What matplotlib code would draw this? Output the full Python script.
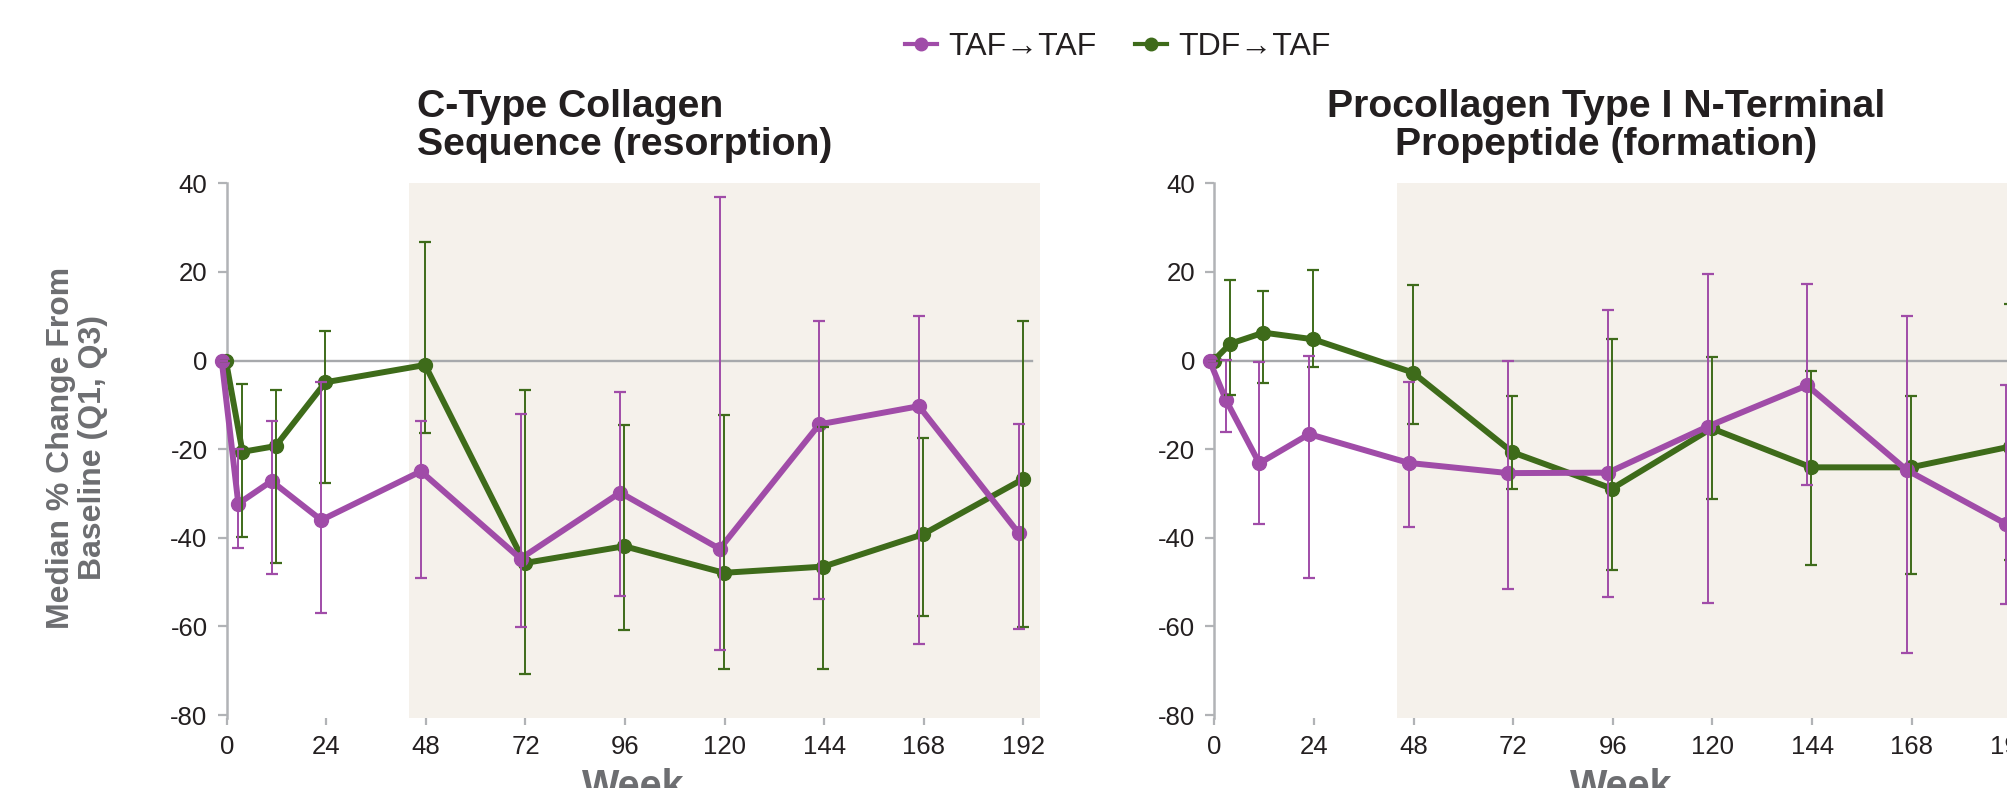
import numpy as np
import matplotlib
matplotlib.use('Agg')
import matplotlib.pyplot as plt
from matplotlib.lines import Line2D

plt.rcParams['font.family'] = ['Liberation Sans', 'DejaVu Sans']
plt.rcParams['axes.unicode_minus'] = False

# study weeks
weeks = [0, 4, 12, 24, 48, 72, 96, 120, 144, 168, 192]
tick_weeks = [0, 24, 48, 72, 96, 120, 144, 168, 192]
y_ticks = [-80, -60, -40, -20, 0, 20, 40]

# C-type collagen sequence (resorption): median, Q1, Q3
ctx_taf_med = [0, -32.3, -27.2, -36.0, -25.0, -44.7, -29.8, -42.5, -14.4, -10.3, -38.9]
ctx_taf_q1 = [0, -42.2, -48.1, -56.9, -49.1, -60.2, -53.2, -65.3, -53.9, -64.0, -60.5]
ctx_taf_q3 = [0, -20.0, -13.6, -4.9, -13.6, -12.0, -7.0, 37.0, 9.0, 10.0, -14.4]
ctx_tdf_med = [0, -20.6, -19.3, -4.9, -1.0, -45.7, -41.9, -47.9, -46.5, -39.2, -26.8]
ctx_tdf_q1 = [0, -39.9, -45.7, -27.6, -16.3, -70.8, -60.8, -69.6, -69.7, -57.6, -60.2]
ctx_tdf_q3 = [0, -5.4, -6.6, 6.7, 26.7, -6.6, -14.6, -12.4, -15.0, -17.5, 8.9]

# Procollagen type I N-terminal propeptide (formation)
pinp_taf_med = [0, -9.0, -23.2, -16.6, -23.1, -25.4, -25.3, -14.9, -5.6, -24.7, -36.9]
pinp_taf_q1 = [0, -16.2, -36.9, -49.0, -37.5, -51.5, -53.4, -54.8, -28.0, -66.0, -55.0]
pinp_taf_q3 = [0, 0.2, -0.3, 1.1, -4.9, -0.1, 11.4, 19.6, 17.3, 10.0, -5.6]
pinp_tdf_med = [0, 3.8, 6.3, 4.8, -2.7, -20.7, -28.9, -15.3, -24.1, -24.1, -19.4]
pinp_tdf_q1 = [0, -7.8, -5.1, -1.5, -14.3, -28.9, -47.2, -31.2, -46.2, -48.1, -45.0]
pinp_tdf_q3 = [0, 18.2, 15.7, 20.5, 17.0, -8.1, 4.9, 0.8, -2.3, -7.9, 12.7]

purple = '#a04ca8'
green = '#3e6b1a'
grey = '#b1b3b6'
label_grey = '#6d6e71'
shade = '#f5f1eb'
dark = '#231f20'

fig = plt.figure(figsize=(20.07, 7.88), dpi=100)
ax1 = fig.add_axes([0.11295, 0.08921, 0.40528, 0.67817])
ax2 = fig.add_axes([0.60513, 0.08921, 0.40528, 0.67817])

panels = [
    (ax1, (ctx_taf_med, ctx_taf_q1, ctx_taf_q3), (ctx_tdf_med, ctx_tdf_q1, ctx_tdf_q3)),
    (ax2, (pinp_taf_med, pinp_taf_q1, pinp_taf_q3), (pinp_tdf_med, pinp_tdf_q1, pinp_tdf_q3)),
]

w = np.array(weeks, dtype=float)
for ax, taf, tdf in panels:
    ax.axvspan(44, 196, color=shade, zorder=0, lw=0)
    ax.plot([0, 194], [0, 0], color='#a7a9ac', lw=1.7, zorder=1)

    series = [(tdf, green, w - 0.2), (taf, purple, w - 1.2)]
    for (med, q1, q3), col, x in series:
        ax.plot(x, med, color=col, lw=4.3, marker='o', ms=10, zorder=3, clip_on=False)
    for (med, q1, q3), col, x in series:
        med = np.array(med); q1 = np.array(q1); q3 = np.array(q3)
        ax.errorbar(x, med, yerr=[med - q1, q3 - med], fmt='none', ecolor=col,
                    elinewidth=1.4, capsize=4, capthick=1.6, zorder=4, clip_on=False)

    ax.set_xlim(0, 196)
    ax.set_ylim(-80.6, 40)
    ax.set_xticks(tick_weeks)
    ax.set_yticks(y_ticks)
    for s in ['top', 'right', 'bottom']:
        ax.spines[s].set_visible(False)
    ax.spines['left'].set_color(grey)
    ax.spines['left'].set_linewidth(1.8)
    ax.tick_params(axis='y', colors=grey, length=6.8, width=1.6, pad=7, labelsize=18.5,
                   labelcolor=dark)
    ax.tick_params(axis='x', colors=grey, length=5.3, width=1.6, pad=7, labelsize=18.5,
                   labelcolor=dark)
    ax.set_facecolor('white')

# x-axis labels, centred under each panel
fig.text(0.3156, 0.0253, 'Week', ha='center', va='top', fontsize=28.5, fontweight='bold',
         color=label_grey)
fig.text(0.8077, 0.0253, 'Week', ha='center', va='top', fontsize=28.5, fontweight='bold',
         color=label_grey)

fig.text(0.3114, 0.8033, 'C-Type Collagen\nSequence (resorption)', ha='center', va='baseline',
         multialignment='left', fontsize=28.3, fontweight='bold', color=dark, linespacing=1.08)
fig.text(0.8002, 0.8033, 'Procollagen Type I N-Terminal\nPropeptide (formation)', ha='center',
         va='baseline', multialignment='center', fontsize=28.3, fontweight='bold', color=dark,
         linespacing=1.08)

fig.text(0.0384, 0.4315, 'Median % Change From\nBaseline (Q1, Q3)', rotation=90, ha='center',
         va='center', multialignment='center', fontsize=23, fontweight='bold', color=label_grey,
         linespacing=1.05)

handles = [Line2D([], [], color=purple, lw=3, marker='o', ms=9),
           Line2D([], [], color=green, lw=3, marker='o', ms=9)]
fig.legend(handles, ['TAF→TAF', 'TDF→TAF'], loc='center',
           bbox_to_anchor=(0.557, 0.9404), ncol=2, frameon=False, fontsize=23,
           handlelength=1.0, handletextpad=0.35, columnspacing=1.2, labelcolor=dark)

fig.savefig('out.png', dpi=100)
plt.close(fig)
